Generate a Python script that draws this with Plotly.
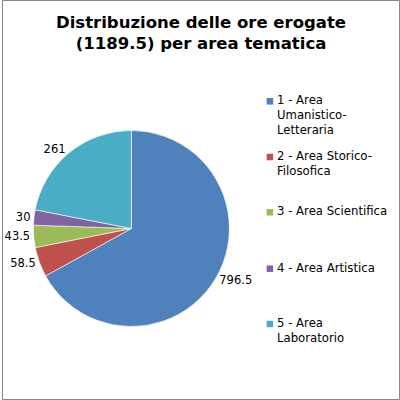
import plotly.graph_objects as go

categories = ["1 - Area Umanistico-Letteraria", "2 - Area Storico-Filosofica",
              "3 - Area Scientifica", "4 - Area Artistica", "5 - Area Laboratorio"]
legend_labels = ["1 - Area<br>Umanistico-<br>Letteraria", "2 - Area Storico-<br>Filosofica",
                 "3 - Area Scientifica", "4 - Area Artistica", "5 - Area<br>Laboratorio"]
values = [796.5, 58.5, 43.5, 30, 261]
value_text = ["796.5", "58.5", "43.5", "30", "261"]
colors = ["#4F81BD", "#C0504D", "#9BBB59", "#8064A2", "#4BACC6"]
title = "Distribuzione delle ore erogate<br>(1189.5) per area tematica"

W = H = 400
FONT = "DejaVu Sans"

fig = go.Figure()
fig.add_trace(go.Pie(
    labels=categories, values=values, text=value_text,
    textinfo="text", textposition="outside",
    sort=False, direction="clockwise", rotation=0,
    marker=dict(colors=colors, line=dict(color="#ffffff", width=0.6)),
    outsidetextfont=dict(family=FONT, size=11.5, color="#000000"),
    domain=dict(x=[(130 - 98.5) / W, (130 + 98.5) / W],
                y=[(400 - 228.5 - 98.5) / H, (400 - 228.5 + 98.5) / H]),
    showlegend=False, hoverinfo="label+value",
))

# legend built as annotations + squares, spaced evenly like the original
legend_y = [101.3, 157, 212.3, 268.7, 324]
annotations = [dict(text="<b>" + title + "</b>", xref="paper", yref="paper",
                    x=0.5, y=1 - 10.5 / H, xanchor="center", yanchor="top",
                    align="center", showarrow=False,
                    font=dict(family=FONT, size=16.5, color="#000000"))]
shapes = [dict(type="rect", xref="paper", yref="paper", x0=0.5 / W, x1=1 - 0.5 / W,
               y0=0.5 / H, y1=1 - 0.5 / H, line=dict(color="#868686", width=1))]
for lab, col, yc in zip(legend_labels, colors, legend_y):
    shapes.append(dict(type="rect", xref="paper", yref="paper",
                       x0=266 / W, x1=272.5 / W,
                       y0=(400 - yc - 3.25) / H, y1=(400 - yc + 3.25) / H,
                       fillcolor=col, line=dict(width=0)))
    annotations.append(dict(text=lab, xref="paper", yref="paper",
                            x=274 / W, y=(400 - yc + 10) / H,
                            xanchor="left", yanchor="top", align="left",
                            showarrow=False,
                            font=dict(family=FONT, size=11.7, color="#000000")))

fig.update_layout(
    width=W, height=H,
    margin=dict(l=0, r=0, t=0, b=0),
    paper_bgcolor="#ffffff", plot_bgcolor="#ffffff",
    shapes=shapes, annotations=annotations,
)

fig.write_html("out.html", config={"displayModeBar": False},
               post_script="document.body.style.margin='0';")
